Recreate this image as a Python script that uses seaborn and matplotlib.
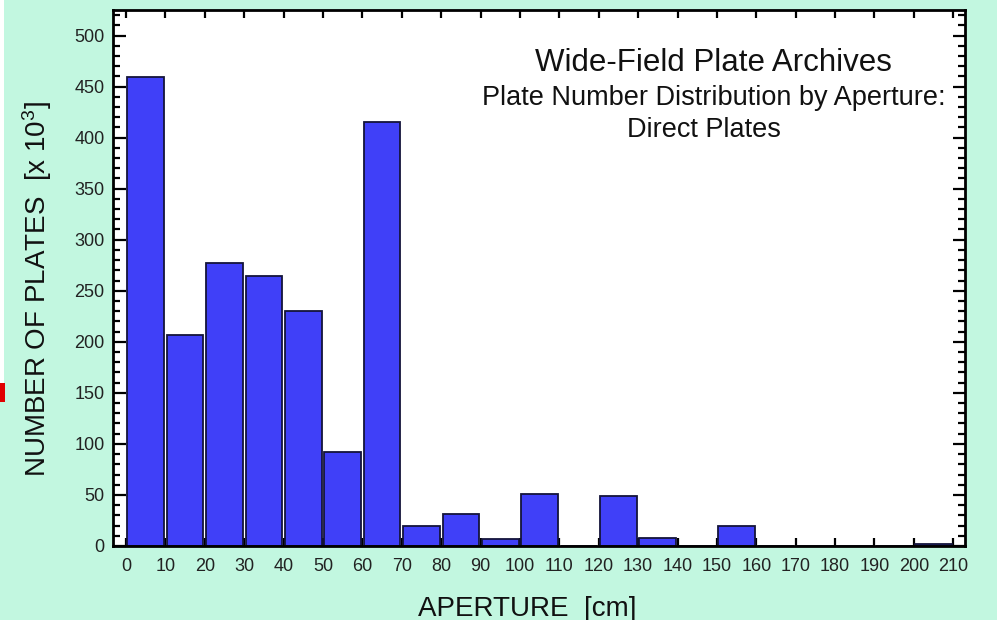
import numpy as np
import matplotlib
matplotlib.use("Agg")
import matplotlib.pyplot as plt
from matplotlib.ticker import MultipleLocator
from matplotlib.patches import Rectangle
import seaborn as sns

# Lower edge of each 10 cm aperture bin and plate counts (thousands)
aperture_cm = [0, 10, 20, 30, 40, 50, 60, 70, 80, 90, 100,
               110, 120, 130, 140, 150, 160, 170, 180, 190, 200]
plates_k = [459, 207, 277, 264, 230, 92, 415, 20, 31, 7, 51,
            0, 49, 8, 0, 20, 0, 0, 0, 0, 2]
bin_edges = list(range(0, 220, 10))

title_lines = ["Wide-Field Plate Archives",
               "Plate Number Distribution by Aperture:",
               "Direct Plates"]

sns.set_theme(style="ticks")
plt.rcParams["font.family"] = ["Liberation Sans", "DejaVu Sans"]
plt.rcParams["mathtext.default"] = "regular"

bg = "#c2f7e0"
fig = plt.figure(figsize=(9.97, 6.2), dpi=100, facecolor=bg)
ax = fig.add_axes([0.1133, 0.1194, 0.8547, 0.8645])
ax.set_facecolor("white")

# slide edge remnants along the left border
fig.patches.append(Rectangle((0, 0.382), 0.004, 0.618, transform=fig.transFigure,
                             facecolor="white", edgecolor="none"))
fig.patches.append(Rectangle((0, 0.352), 0.005, 0.031, transform=fig.transFigure,
                             facecolor="#e00000", edgecolor="none"))

sns.histplot(x=aperture_cm, weights=plates_k, bins=bin_edges, shrink=0.93,
             color="#4040f8", edgecolor="#14143a", linewidth=1.3,
             alpha=1, ax=ax)

ax.set_xlim(-3.3, 213)
ax.set_ylim(0, 525)
ax.xaxis.set_major_locator(MultipleLocator(10))
ax.yaxis.set_minor_locator(MultipleLocator(10))
ax.set_yticks(range(0, 550, 50))

ax.tick_params(axis="both", which="both", direction="in", top=True, right=True,
               colors="black", width=1.6)
ax.tick_params(axis="x", which="major", length=6, labelsize=13, pad=8.5)
ax.tick_params(axis="y", which="major", length=9, labelsize=13, pad=6)
ax.tick_params(axis="y", which="minor", length=5)
for lbl in ax.get_xticklabels() + ax.get_yticklabels():
    lbl.set_color("#222222")

for sp in ax.spines.values():
    sp.set_visible(True)
    sp.set_linewidth(2)
    sp.set_color("black")

ax.set_xlabel("APERTURE  [cm]", fontsize=20, labelpad=12, color="#111111")
ax.xaxis.set_label_coords(0.486, -0.093)
ax.set_ylabel("NUMBER OF PLATES  [x 10$^{3}$]", fontsize=20, labelpad=12,
              color="#111111")
ax.yaxis.set_label_coords(-0.069, 0.48)

ax.text(0.705, 0.902, title_lines[0], transform=ax.transAxes,
        ha="center", va="center", fontsize=22.5, color="#111111")
ax.text(0.705, 0.835, title_lines[1], transform=ax.transAxes,
        ha="center", va="center", fontsize=19.5, color="#111111")
ax.text(0.694, 0.776, title_lines[2], transform=ax.transAxes,
        ha="center", va="center", fontsize=19.5, color="#111111")

fig.savefig("out.png", dpi=100, facecolor=bg)
